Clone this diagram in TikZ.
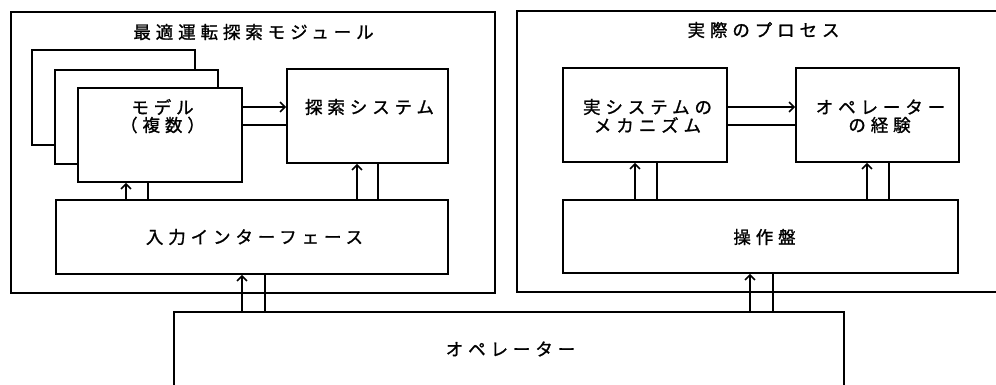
\documentclass[tikz,border=0pt]{standalone}
\usepackage{fontspec}
\usetikzlibrary{arrows.meta}
\newfontfamily\jpfont[LetterSpace=28,FakeBold=1.2]{Noto Sans CJK JP}
\newcommand{\jt}[1]{\kern5pt#1}
\tikzset{
  box/.style={draw, line width=1.6pt, rectangle, inner sep=0pt, fill=white},
  txt/.style={font=\jpfont\fontsize{17.5pt}{20pt}\selectfont, inner sep=0pt, anchor=center},
  arr/.style={line width=1.6pt, -{Straight Barb[length=5pt,width=10pt,line width=1.6pt]}},
  ln/.style={line width=1.6pt}
}
\begin{document}
\begin{tikzpicture}[x=1pt,y=-1pt]
\useasboundingbox (0,0) rectangle (996,384);
% outer boxes
\node[box, minimum width=484pt, minimum height=281pt] (outL) at (253,152.5) {};
\node[box, minimum width=493pt, minimum height=281pt] (outR) at (763.5,151.5) {};
% stacked model boxes
\node[box, minimum width=163pt, minimum height=95pt] (modA) at (113.5,97.5) {};
\node[box, minimum width=163pt, minimum height=94pt] (modB) at (136.5,117) {};
\node[box, minimum width=164pt, minimum height=94pt] (modC) at (160,135) {};
% inner boxes
\node[box, minimum width=161pt, minimum height=94pt] (search) at (367.5,116) {};
\node[box, minimum width=392pt, minimum height=74pt] (iface) at (252,237) {};
\node[box, minimum width=164pt, minimum height=94pt] (mech) at (645,115) {};
\node[box, minimum width=163pt, minimum height=94pt] (exp) at (877.5,115) {};
\node[box, minimum width=395pt, minimum height=73pt] (panel) at (760.5,236.5) {};
\node[box, minimum width=670pt, minimum height=100pt] (oper) at (509,362) {};
% texts
\node[txt] (tL) at (251,32) {\jt{最適運転探索モジュール}};
\node[txt] (tR) at (761,30) {\jt{実際のプロセス}};
\node[txt] (tmod1) at (160,107) {\jt{モデル}};
\node[txt] (tmod2) at (160,125) {\jt{（複数）}};
\node[txt] (tsearch) at (367,107) {\jt{探索システム}};
\node[txt] (tiface) at (252,237) {\jt{入力インターフェース}};
\node[txt] (tmech1) at (645,107) {\jt{実システムの}};
\node[txt] (tmech2) at (645,125) {\jt{メカニズム}};
\node[txt] (texp1) at (878,107) {\jt{オペレーター}};
\node[txt] (texp2) at (877,125) {\jt{の経験}};
\node[txt] (tpanel) at (762,237) {\jt{操作盤}};
\node[txt] (toper) at (508,349) {\jt{オペレーター}};
% horizontal connectors
\draw[arr] (modC.east |- 0,107) -- (search.west |- 0,107);
\draw[ln] (modC.east |- 0,125) -- (search.west |- 0,125);
\draw[arr] (mech.east |- 0,107) -- (exp.west |- 0,107);
\draw[ln] (mech.east |- 0,125) -- (exp.west |- 0,125);
% vertical connectors
\draw[arr] (iface.north -| 126,0) -- (modC.south -| 126,0);
\draw[ln] (iface.north -| 148,0) -- (modC.south -| 148,0);
\draw[arr] (iface.north -| 357,0) -- (search.south -| 357,0);
\draw[ln] (iface.north -| 378,0) -- (search.south -| 378,0);
\draw[arr] (oper.north -| 242,0) -- (iface.south -| 242,0);
\draw[ln] (oper.north -| 265,0) -- (iface.south -| 265,0);
\draw[arr] (panel.north -| 635,0) -- (mech.south -| 635,0);
\draw[ln] (panel.north -| 657,0) -- (mech.south -| 657,0);
\draw[arr] (panel.north -| 867,0) -- (exp.south -| 867,0);
\draw[ln] (panel.north -| 889,0) -- (exp.south -| 889,0);
\draw[arr] (oper.north -| 750,0) -- (panel.south -| 750,0);
\draw[ln] (oper.north -| 773,0) -- (panel.south -| 773,0);
\end{tikzpicture}
\end{document}
